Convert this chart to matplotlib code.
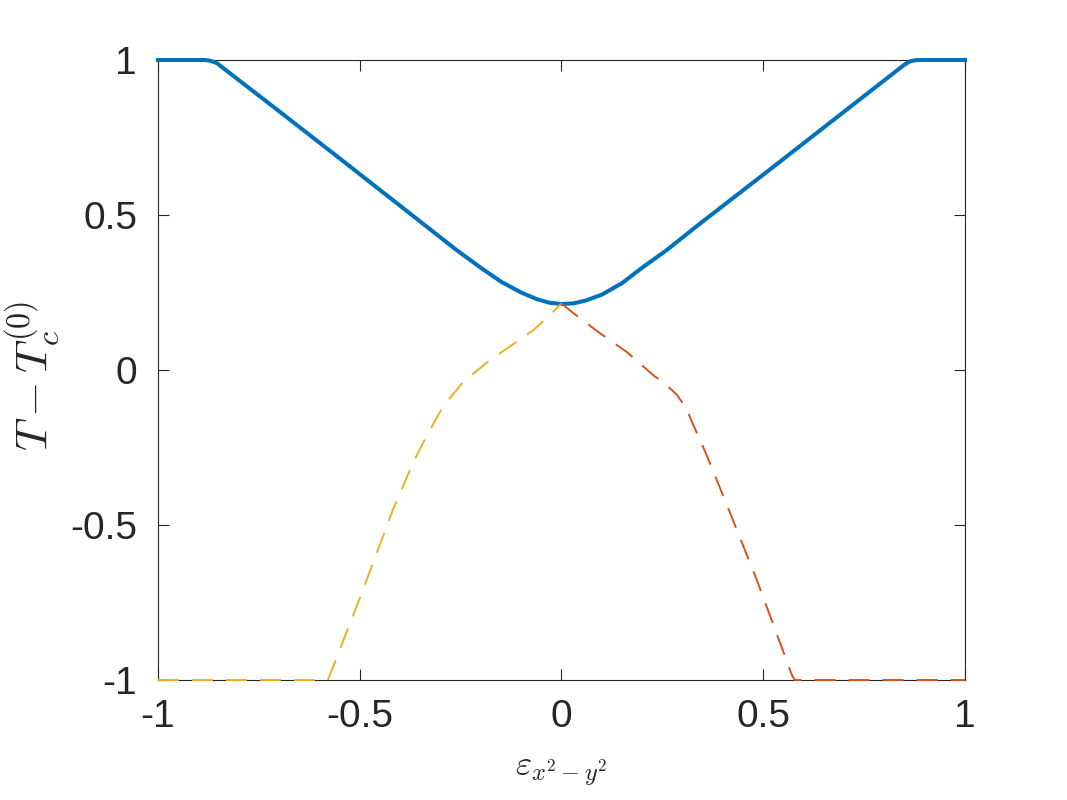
import numpy as np
import matplotlib
matplotlib.use('Agg')
import matplotlib.pyplot as plt

# Kurven
blue_x = [-1.0, -0.884, -0.871, -0.854, -0.70, -0.55, -0.40, -0.26, -0.20, -0.15, -0.10,
          -0.06, -0.03, 0.0, 0.03, 0.06, 0.10, 0.15, 0.20, 0.261, 0.344, 0.50, 0.70,
          0.850, 0.864, 0.880, 1.0]
blue_y = [1.0, 1.0, 0.998, 0.990, 0.835, 0.683, 0.530, 0.387, 0.330, 0.285, 0.250,
          0.228, 0.217, 0.213, 0.215, 0.224, 0.243, 0.280, 0.330, 0.387, 0.473, 0.630, 0.833,
          0.985, 0.996, 1.0, 1.0]

yellow_x = [-1.0, -0.579, -0.566, -0.492, -0.418, -0.368, -0.333, -0.294, -0.244, -0.177,
            -0.120, -0.0694, -0.030, 0.0]
yellow_y = [-1.0, -1.0, -0.958, -0.710, -0.452, -0.300, -0.210, -0.119, -0.039, 0.032,
            0.083, 0.129, 0.175, 0.215]

red_x = [0.0, 0.029, 0.095, 0.162, 0.227, 0.260, 0.286, 0.310, 0.326, 0.360, 0.425, 0.484,
         0.542, 0.571, 0.578, 1.0]
red_y = [0.215, 0.184, 0.119, 0.058, -0.016, -0.048, -0.080, -0.125, -0.175, -0.275, -0.484,
         -0.677, -0.881, -0.984, -1.0, -1.0]

xticks = [-1, -0.5, 0, 0.5, 1]
xtick_labels = ['-1', '-0.5', '0', '0.5', '1']
yticks = [-1, -0.5, 0, 0.5, 1]
ytick_labels = ['-1', '-0.5', '0', '0.5', '1']

plt.rcParams['font.family'] = ['Liberation Sans', 'DejaVu Sans']
plt.rcParams['mathtext.fontset'] = 'cm'

fig = plt.figure(figsize=(10.67, 8), dpi=100)
ax = fig.add_axes([0.148, 0.15, 0.7564, 0.775])

ax.plot(blue_x, blue_y, color='#0072BD', linewidth=2.9, solid_joinstyle='round',
        clip_on=False, zorder=3)
ax.plot(yellow_x, yellow_y, color='#EDB120', linewidth=1.4, dashes=(10.8, 6.7),
        clip_on=False, zorder=3)
ax.plot(red_x, red_y, color='#D95319', linewidth=1.4, dashes=(10.8, 6.7),
        clip_on=False, zorder=3)

ax.set_xlim(-1, 1)
ax.set_ylim(-1, 1)
ax.set_xticks(xticks)
ax.set_xticklabels(xtick_labels)
ax.set_yticks(yticks)
ax.set_yticklabels(ytick_labels)

ax.tick_params(direction='in', length=8, width=0.8, colors='#262626',
               labelsize=28, top=True, right=True)
ax.tick_params(axis='x', pad=14)
ax.tick_params(axis='y', pad=15)
for s in ax.spines.values():
    s.set_color('#262626')
    s.set_linewidth(0.8)

ax.set_ylabel(r'$T - T_c^{(0)}$', fontsize=33, color='#262626')
# rechte Kante des Labels bei ca. x = 62 px
ax.yaxis.set_label_coords(-0.119, 0.49)
ax.set_xlabel(r'$\varepsilon_{x^2-y^2}$', fontsize=25, color='#262626', labelpad=14)

plt.savefig('out.png', dpi=100)
